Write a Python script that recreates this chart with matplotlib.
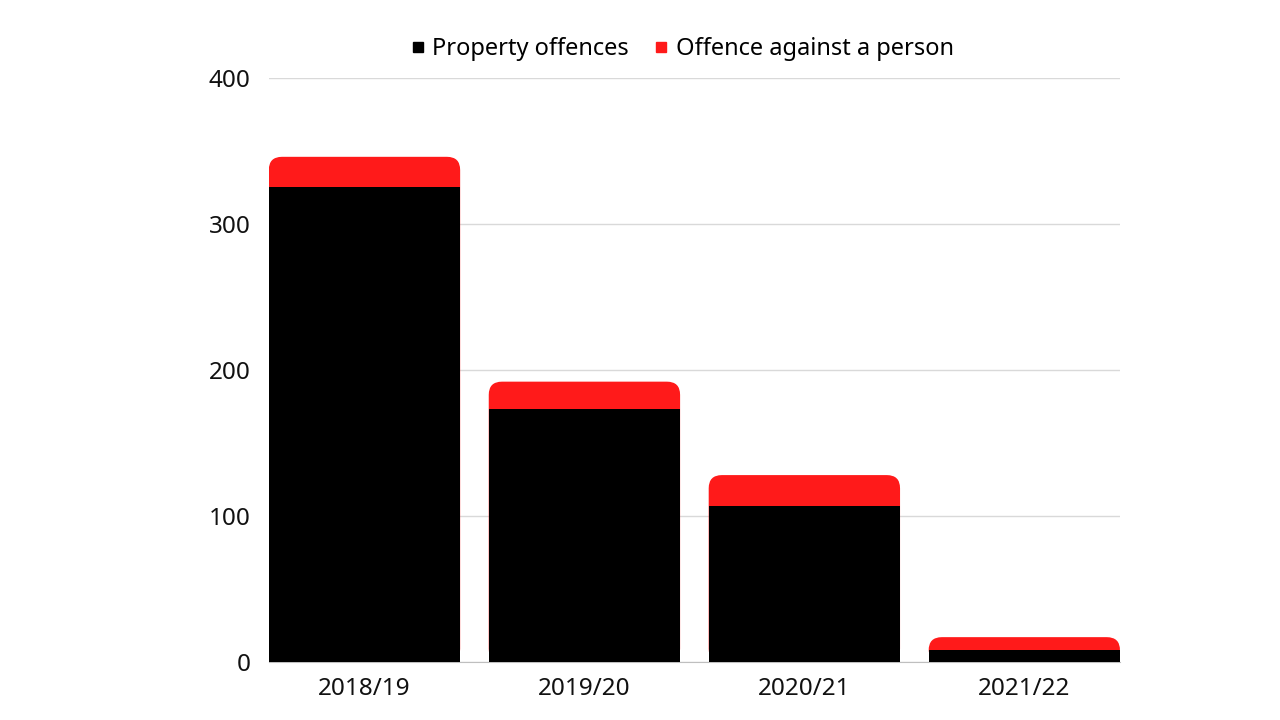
import matplotlib
matplotlib.use("Agg")
import matplotlib.pyplot as plt
from matplotlib.patches import FancyBboxPatch
from matplotlib.lines import Line2D

categories = ["2018/19", "2019/20", "2020/21", "2021/22"]
property_offences = [325, 173, 107, 8]
person_offences = [21, 19, 21, 9]
yticks = [0, 100, 200, 300, 400]

plt.rcParams['font.family'] = ['Noto Sans', 'DejaVu Sans']

fig = plt.figure(figsize=(12.8, 7.2), dpi=100)
ax = fig.add_axes([0.210, 0.0806, 0.665, 0.8111])

width = 0.87
xs = list(range(len(categories)))
red = "#FF1A1A"
rad_x = 0.06
aspect = (400 / 584) / (1 / 220)  # data-y per px / data-x per px

for x, p, q in zip(xs, property_offences, person_offences):
    total = p + q
    patch = FancyBboxPatch((x - width / 2, 0), width, total,
                           boxstyle=f"round,pad=0,rounding_size={rad_x}",
                           mutation_aspect=aspect,
                           facecolor=red, edgecolor="none", zorder=2)
    ax.add_patch(patch)

ax.bar(xs, property_offences, width=width, color="black", zorder=3)

ax.set_xlim(-width / 2, len(categories) - 1 + width / 2)
ax.set_ylim(0, 400)
ax.set_yticks(yticks)
ax.set_xticks(xs)
ax.set_xticklabels(categories)
ax.grid(axis='y', color="#d9d9d9", linewidth=1, zorder=0)
ax.set_axisbelow(True)
for s in ["top", "right", "left"]:
    ax.spines[s].set_visible(False)
ax.spines["bottom"].set_color("#bfbfbf")
ax.tick_params(axis='both', length=0, labelsize=17.5, colors="#111111")
ax.tick_params(axis='y', pad=13)
ax.tick_params(axis='x', pad=11)

handles = [Line2D([], [], marker='s', linestyle='none', color='black', markersize=6.5),
           Line2D([], [], marker='s', linestyle='none', color=red, markersize=6.5)]
fig.legend(handles, ["Property offences", "Offence against a person"],
           loc='center', bbox_to_anchor=(0.531, 0.932), ncol=2, frameon=False,
           fontsize=17, handletextpad=0.1, columnspacing=0.9, handlelength=1)

fig.savefig("out.png", dpi=100)
